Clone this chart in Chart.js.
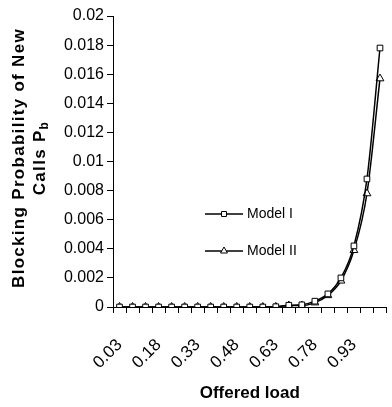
<!DOCTYPE html>
<html>
<head>
<meta charset="utf-8">
<script src="https://cdn.jsdelivr.net/npm/chart.js@4.4.0/dist/chart.umd.min.js"></script>
<style>
  html, body { margin: 0; padding: 0; background: #fff; }
  #wrap { width: 392px; height: 407px; }
</style>
</head>
<body>
<div id="wrap"><canvas id="blockingChart"></canvas></div>
<script>
const offeredLoad = ['0.03', '0.08', '0.13', '0.18', '0.23', '0.28', '0.33', '0.38', '0.43', '0.48', '0.53',
  '0.58', '0.63', '0.68', '0.73', '0.78', '0.83', '0.88', '0.93', '0.98', '1.03'];
const modelI = [0, 0, 0, 0, 0, 0, 0, 0, 0, 0, 0, 0, 0.00002, 0.00012, 0.00015, 0.0004, 0.0009, 0.002, 0.0042, 0.0088, 0.0178];
const modelII = [0, 0, 0, 0, 0, 0, 0, 0, 0, 0, 0, 0, 0.00001, 0.0001, 0.0001, 0.0003, 0.0008, 0.0018, 0.0039, 0.0078, 0.0157];
const seriesNames = ['Model I', 'Model II'];
const yTicks = [0, 0.002, 0.004, 0.006, 0.008, 0.01, 0.012, 0.014, 0.016, 0.018, 0.02];

const FONT = '"Liberation Sans", Arial, sans-serif';

// y axis title with subscript + legend inside the plot
const extras = {
  id: 'extras',
  afterDraw(chart) {
    const ctx = chart.ctx;
    const midY = 158;
    ctx.save();
    ctx.fillStyle = '#000';
    ctx.textBaseline = 'middle';
    ctx.font = 'bold 17px ' + FONT;
    ctx.letterSpacing = '1.3px';
    ctx.save();
    ctx.translate(19, midY);
    ctx.rotate(-Math.PI / 2);
    ctx.textAlign = 'center';
    ctx.fillText('Blocking Probability of New', 0, 0);
    ctx.restore();

    ctx.save();
    ctx.translate(40, midY);
    ctx.rotate(-Math.PI / 2);
    ctx.textAlign = 'left';
    const main = 'Calls P';
    const w1 = ctx.measureText(main).width;
    ctx.font = 'bold 12px ' + FONT;
    const wb = ctx.measureText('b').width;
    const start = -(w1 + wb) / 2;
    ctx.font = 'bold 17px ' + FONT;
    ctx.fillText(main, start, 0);
    ctx.font = 'bold 12px ' + FONT;
    ctx.fillText('b', start + w1, 5);
    ctx.restore();
    ctx.letterSpacing = '0px';

    // legend
    const rows = [214, 251];
    chart.data.datasets.forEach((ds, i) => {
      const y = rows[i];
      ctx.strokeStyle = '#000';
      ctx.lineWidth = 1.5;
      ctx.beginPath();
      ctx.moveTo(205, y);
      ctx.lineTo(243, y);
      ctx.stroke();
      ctx.fillStyle = '#fff';
      ctx.lineWidth = 1;
      Chart.helpers.drawPoint(ctx, {
        pointStyle: ds.pointStyle, radius: ds.pointRadius - 0.5, borderWidth: 1
      }, 224, y);
      ctx.fillStyle = '#000';
      ctx.font = '14px ' + FONT;
      ctx.textAlign = 'left';
      ctx.fillText(ds.label, 247, y);
    });
    ctx.restore();
  }
};

new Chart(document.getElementById('blockingChart'), {
  type: 'line',
  data: {
    labels: offeredLoad,
    datasets: [
      {
        label: seriesNames[0],
        data: modelI,
        borderColor: '#000',
        borderWidth: 1.5,
        pointStyle: 'rect',
        pointRadius: 4,
        pointBorderWidth: 1,
        pointBackgroundColor: '#fff',
        pointBorderColor: '#000',
        cubicInterpolationMode: 'monotone'
      },
      {
        label: seriesNames[1],
        data: modelII,
        borderColor: '#000',
        borderWidth: 1.5,
        pointStyle: 'triangle',
        pointRadius: 4.5,
        pointBorderWidth: 1,
        pointBackgroundColor: '#fff',
        pointBorderColor: '#000',
        cubicInterpolationMode: 'monotone'
      }
    ]
  },
  options: {
    responsive: true,
    maintainAspectRatio: false,
    animation: false,
    layout: { padding: { top: 16, right: 0, left: 0, bottom: 0 } },
    plugins: {
      legend: { display: false },
      tooltip: { enabled: false }
    },
    scales: {
      x: {
        offset: true,
        grid: { offset: true, drawOnChartArea: false, drawTicks: true, tickLength: 6, color: '#000' },
        border: { color: '#000', width: 1 },
        ticks: {
          autoSkip: false,
          maxRotation: 45,
          minRotation: 45,
          padding: 22,
          color: '#000',
          font: { family: FONT, size: 17 },
          callback: (v, i) => (i % 3 === 0 ? offeredLoad[i] : '')
        },
        title: {
          display: true,
          text: 'Offered load',
          color: '#000',
          font: { family: FONT, size: 17, weight: 'bold' },
          padding: { top: 0, bottom: 3 }
        },
        afterFit: (scale) => { scale.height = 100; scale.paddingRight = 0; }
      },
      y: {
        min: 0,
        max: 0.02,
        afterBuildTicks: (scale) => { scale.ticks = yTicks.map(v => ({ value: v })); },
        grid: { drawOnChartArea: false, drawTicks: true, tickLength: 6, color: '#000' },
        border: { color: '#000', width: 1 },
        ticks: {
          color: '#000',
          padding: 3,
          font: { family: FONT, size: 16 },
          callback: (v) => String(Number(v.toFixed(3)))
        },
        afterFit: (scale) => { scale.width = 113; }
      }
    }
  },
  plugins: [extras]
});
</script>
</body>
</html>
